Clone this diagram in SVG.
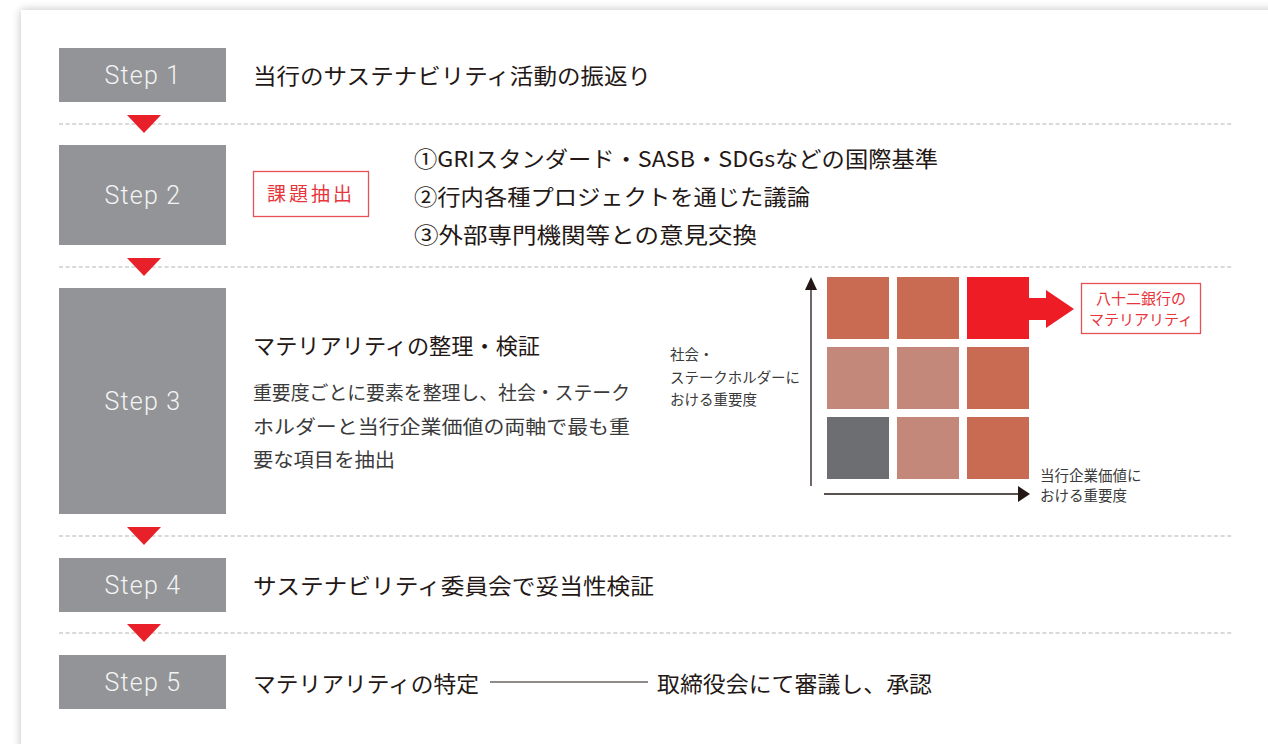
<svg xmlns="http://www.w3.org/2000/svg" width="1268" height="744" viewBox="0 0 1268 744">
<defs>
<filter id="sh" x="-5%" y="-5%" width="110%" height="110%">
<feGaussianBlur in="SourceAlpha" stdDeviation="5"/>
<feOffset dx="0" dy="0"/>
<feComponentTransfer><feFuncA type="linear" slope="0.25"/></feComponentTransfer>
<feMerge><feMergeNode/><feMergeNode in="SourceGraphic"/></feMerge>
</filter>
</defs>
<style>
.step{fill:#939497}
.stxt{font-family:Roboto,"Liberation Sans",Arial,sans-serif;font-weight:300;font-size:25px;fill:#f4f4f4;text-anchor:middle;letter-spacing:1.2px}
.jp{font-family:"Noto Sans CJK JP","Noto Sans",sans-serif;fill:#231815}
.h{font-size:22px}
.b{font-size:19px;fill:#3a3a3a}
.s{font-size:14.5px;fill:#3a3a3a}
.dash{stroke:#b3b3b3;stroke-width:1.2;stroke-dasharray:4 2.6;fill:none}
.tri{fill:#e8202a}
.red{fill:#e6353b}
.rbox{fill:#fff;stroke:#e65156;stroke-width:1.3}
.c1{fill:#c96a52}.c2{fill:#c4887a}.c3{fill:#6d6e72}.c4{fill:#ee1c25}
</style>
<rect width="1268" height="744" fill="#fff"/>
<rect x="21" y="10" width="1320" height="800" fill="#fff" filter="url(#sh)"/>

<g id="connectors">
<line class="dash" x1="59" y1="124" x2="1232" y2="124"/>
<line class="dash" x1="59" y1="267" x2="1232" y2="267"/>
<line class="dash" x1="59" y1="536" x2="1232" y2="536"/>
<line class="dash" x1="59" y1="633" x2="1232" y2="633"/>
<polygon class="tri" points="127,115 161,115 144,133"/>
<polygon class="tri" points="127,258 161,258 144,276"/>
<polygon class="tri" points="127,527 161,527 144,545"/>
<polygon class="tri" points="127,624 161,624 144,642"/>
</g>

<g id="step1">
<rect class="step" x="59" y="48" width="167" height="54"/>
<text class="stxt" x="143" y="84">Step 1</text>
<text class="jp h" x="253" y="84" textLength="398" lengthAdjust="spacingAndGlyphs">当行のサステナビリティ活動の振返り</text>
</g>

<g id="step2">
<rect class="step" x="59" y="145" width="167" height="100"/>
<text class="stxt" x="143" y="204">Step 2</text>
<rect class="rbox" x="253.5" y="171.5" width="115" height="45"/>
<text class="jp red" x="311" y="201" font-size="19" text-anchor="middle" letter-spacing="3">課題抽出</text>
<text class="jp h" x="414" y="167" textLength="524" lengthAdjust="spacingAndGlyphs">①GRIスタンダード・SASB・SDGsなどの国際基準</text>
<text class="jp h" x="414" y="205" textLength="396" lengthAdjust="spacingAndGlyphs">②行内各種プロジェクトを通じた議論</text>
<text class="jp h" x="414" y="243" textLength="343" lengthAdjust="spacingAndGlyphs">③外部専門機関等との意見交換</text>
</g>

<g id="step3">
<rect class="step" x="59" y="288" width="167" height="226"/>
<text class="stxt" x="143" y="410">Step 3</text>
<text class="jp h" x="253" y="354" textLength="287" lengthAdjust="spacingAndGlyphs">マテリアリティの整理・検証</text>
<text class="jp b" x="253" y="400" textLength="377" lengthAdjust="spacingAndGlyphs">重要度ごとに要素を整理し、社会・ステーク</text>
<text class="jp b" x="253" y="434" textLength="377" lengthAdjust="spacingAndGlyphs">ホルダーと当行企業価値の両軸で最も重</text>
<text class="jp b" x="253" y="467" textLength="142" lengthAdjust="spacingAndGlyphs">要な項目を抽出</text>
</g>

<g id="matrix">
<line x1="811" y1="288" x2="811" y2="486" stroke="#231815" stroke-width="1.3"/>
<polygon points="805,290 817,290 811,277" fill="#231815"/>
<line x1="824" y1="494" x2="1020" y2="494" stroke="#231815" stroke-width="1.3"/>
<polygon points="1018,486 1018,502 1030,494" fill="#231815"/>
<rect class="c1" x="827" y="277" width="62" height="62"/>
<rect class="c1" x="897" y="277" width="62" height="62"/>
<rect class="c4" x="967" y="277" width="62" height="62"/>
<rect class="c2" x="827" y="347" width="62" height="62"/>
<rect class="c2" x="897" y="347" width="62" height="62"/>
<rect class="c1" x="967" y="347" width="62" height="62"/>
<rect class="c3" x="827" y="417" width="62" height="62"/>
<rect class="c2" x="897" y="417" width="62" height="62"/>
<rect class="c1" x="967" y="417" width="62" height="62"/>
<polygon class="c4" points="1029,298 1046,298 1046,290 1074,309 1046,328 1046,320 1029,320"/>
<text class="jp s" x="670" y="360">社会・</text>
<text class="jp s" x="670" y="383" textLength="130" lengthAdjust="spacingAndGlyphs">ステークホルダーに</text>
<text class="jp s" x="670" y="405">おける重要度</text>
<text class="jp s" x="1040" y="481">当行企業価値に</text>
<text class="jp s" x="1040" y="501">おける重要度</text>
</g>

<g id="materiality">
<rect class="rbox" x="1081.5" y="283.5" width="119" height="50"/>
<text class="jp red" x="1141" y="304" font-size="15" text-anchor="middle">八十二銀行の</text>
<text class="jp red" x="1141" y="325" font-size="15" text-anchor="middle">マテリアリティ</text>
</g>

<g id="step4">
<rect class="step" x="59" y="558" width="167" height="54"/>
<text class="stxt" x="143" y="594">Step 4</text>
<text class="jp h" x="253" y="594" textLength="401" lengthAdjust="spacingAndGlyphs">サステナビリティ委員会で妥当性検証</text>
</g>

<g id="step5">
<rect class="step" x="59" y="655" width="167" height="54"/>
<text class="stxt" x="143" y="691">Step 5</text>
<text class="jp h" x="253" y="692" textLength="226" lengthAdjust="spacingAndGlyphs">マテリアリティの特定</text>
<line x1="490" y1="682" x2="648" y2="682" stroke="#231815" stroke-width="1.2"/>
<text class="jp h" x="657" y="692" textLength="275" lengthAdjust="spacingAndGlyphs">取締役会にて審議し、承認</text>
</g>
</svg>
